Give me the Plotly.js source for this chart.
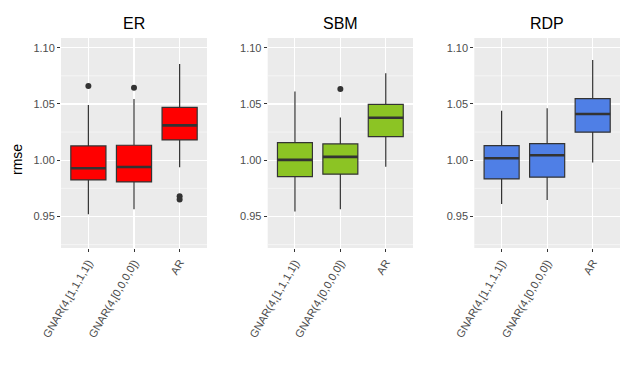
<!DOCTYPE html>
<html>
<head>
<meta charset="utf-8">
<script src="https://cdn.plot.ly/plotly-3.0.1.min.js"></script>
<style>
  html, body { margin: 0; padding: 0; background: #fff; }
  #chart { width: 635px; height: 374px; }
</style>
</head>
<body>
<div id="chart"></div>
<script>
/* rmse boxplots per network model — ER / SBM / RDP */
const MODELS = ["GNAR(4,[1,1,1,1])", "GNAR(4,[0,0,0,0])", "AR"];
const PANELS = ["ER", "SBM", "RDP"];
const FILLS = ["#FF0000", "#8CC424", "#4F7FE6"];

// box stats, one row per panel, one entry per model
const Q1 =     [[0.9825, 0.9807, 1.018], [0.9854, 0.9876, 1.021], [0.9834, 0.9849, 1.0249]];
const MEDIAN = [[0.9929, 0.9940, 1.031], [1.0003, 1.0030, 1.0378], [1.0018, 1.0044, 1.0411]];
const Q3 =     [[1.0127, 1.0133, 1.047], [1.0156, 1.0145, 1.0497], [1.0130, 1.0147, 1.0547]];
const LOWER =  [[0.952, 0.9565, 0.9938], [0.9544, 0.9565, 0.9943], [0.9612, 0.9647, 0.9979]];
const UPPER =  [[1.049, 1.0544, 1.0855], [1.061, 1.038, 1.0773], [1.044, 1.0462, 1.089]];
// outliers: [panel, model index, value]
const OUTLIERS = [
  [0, 0, 1.066], [0, 1, 1.0645], [0, 2, 0.968], [0, 2, 0.965],
  [1, 1, 1.0633],
];

const YTICKS = [0.95, 1.00, 1.05, 1.10];
const YMINOR = [0.925, 0.975, 1.025, 1.075];

(function () {
  const BOXW = 0.77;
  const POS = MODELS.map((m, i) => i + 1);
  const W = 635, H = 374;
  const dom = [[61, 207], [267.7, 413], [474.3, 620]].map(([a, b]) => [a / W, b / W]);
  const ydom = [1 - 248 / H, 1 - 38 / H];
  const FONT = "Liberation Sans, Arial, Helvetica, sans-serif";
  const traces = [];
  const shapes = [];

  PANELS.forEach((p, k) => {
    const xa = k ? "x" + (k + 1) : "x", ya = k ? "y" + (k + 1) : "y";
    traces.push({
      type: "box", orientation: "v", x: POS, xaxis: xa, yaxis: ya,
      q1: Q1[k], median: MEDIAN[k], q3: Q3[k], lowerfence: LOWER[k], upperfence: UPPER[k],
      width: BOXW, whiskerwidth: 0, boxpoints: false,
      fillcolor: FILLS[k], line: { color: "#333333", width: 1.2 },
      hoverinfo: "y", showlegend: false,
    });
    // thick median bar like ggplot
    const mx = [], my = [];
    POS.forEach((x, i) => { mx.push(x - BOXW / 2, x + BOXW / 2, null); my.push(MEDIAN[k][i], MEDIAN[k][i], null); });
    traces.push({
      type: "scatter", mode: "lines", x: mx, y: my, xaxis: xa, yaxis: ya,
      line: { color: "#333333", width: 2.6 }, hoverinfo: "skip", showlegend: false,
    });
    const out = OUTLIERS.filter(o => o[0] === k);
    if (out.length) traces.push({
      type: "scatter", mode: "markers", x: out.map(o => POS[o[1]]), y: out.map(o => o[2]),
      xaxis: xa, yaxis: ya, marker: { color: "#333333", size: 6 }, showlegend: false,
    });
    // minor horizontal grid (ggplot style)
    YMINOR.forEach(v => shapes.push({
      type: "line", layer: "below", xref: xa + " domain", yref: ya,
      x0: 0, x1: 1, y0: v, y1: v, line: { color: "#F8F8F8", width: 0.8 },
    }));
  });

  const layout = {
    width: W, height: H, margin: { l: 0, r: 0, t: 0, b: 0 },
    paper_bgcolor: "#fff", plot_bgcolor: "#EBEBEB",
    font: { family: FONT, size: 11, color: "#4D4D4D" },
    annotations: [], shapes,
  };
  PANELS.forEach((p, k) => {
    const sx = k ? String(k + 1) : "";
    layout["xaxis" + sx] = {
      domain: dom[k], anchor: "y" + sx, range: [0.4, 3.6],
      tickmode: "array", tickvals: POS, ticktext: MODELS, tickangle: -60,
      ticks: "outside", ticklen: 3, tickcolor: "#333333", tickwidth: 1,
      showgrid: true, gridcolor: "#FFFFFF", gridwidth: 1.1, zeroline: false, showline: false,
      tickfont: { size: 11, color: "#4D4D4D" }, fixedrange: true,
    };
    layout["yaxis" + sx] = {
      domain: ydom, anchor: "x" + sx, range: [0.922, 1.1086],
      tickmode: "array", tickvals: YTICKS, tickformat: ".2f",
      ticks: "outside", ticklen: 3, tickcolor: "#333333", tickwidth: 1,
      showgrid: true, gridcolor: "#FFFFFF", gridwidth: 1.1, zeroline: false, showline: false,
      tickfont: { size: 11, color: "#4D4D4D" }, fixedrange: true,
    };
    layout.annotations.push({
      xref: "paper", yref: "paper", x: (dom[k][0] + dom[k][1]) / 2, y: 1 - 23 / H,
      xanchor: "center", yanchor: "middle", text: p, showarrow: false,
      font: { family: FONT, size: 16, color: "#000" },
    });
  });
  layout.annotations.push({
    xref: "paper", yref: "paper", x: 17 / W, y: 1 - 160 / H, textangle: -90,
    xanchor: "center", yanchor: "middle", text: "rmse", showarrow: false,
    font: { family: FONT, size: 14, color: "#000" },
  });

  Plotly.newPlot("chart", traces, layout, { displayModeBar: false, staticPlot: true });
})();
</script>
</body>
</html>
